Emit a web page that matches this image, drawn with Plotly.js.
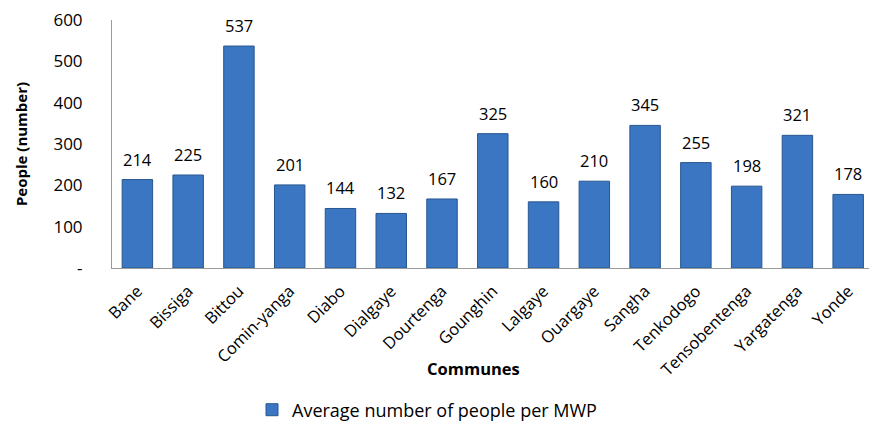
<!DOCTYPE html>
<html>
<head>
<meta charset="utf-8">
<script src="https://cdn.plot.ly/plotly-3.0.1.min.js"></script>
<style>html,body{margin:0;padding:0;background:#fff;}#chart{width:869px;height:424px;}</style>
</head>
<body>
<div id="chart"></div>
<script>
const communes = ["Bane","Bissiga","Bittou","Comin-yanga","Diabo","Dialgaye","Dourtenga","Gounghin","Lalgaye","Ouargaye","Sangha","Tenkodogo","Tensobentenga","Yargatenga","Yonde"];
const avgPeople = [214,225,537,201,144,132,167,325,160,210,345,255,198,321,178];
const seriesName = "Average number of people per MWP";
const yTickVals = [0,100,200,300,400,500,600];
const yTickText = ["-","100","200","300","400","500","600"];

const FONT = "'Open Sans', sans-serif";

const trace = {
  type: "bar",
  x: communes,
  y: avgPeople,
  name: seriesName,
  width: 0.6,
  marker: {color: "#3b76c3", line: {color: "#28568f", width: 1}},
  cliponaxis: false,
  hoverinfo: "x+y"
};

const valueLabels = communes.map((c, i) => ({
  x: c, y: avgPeople[i], xref: "x", yref: "y",
  text: String(avgPeople[i]), showarrow: false,
  xanchor: "center", yanchor: "bottom", yshift: 7,
  font: {family: FONT, size: 16.5, color: "#000"}
}));

const layout = {
  width: 869, height: 424,
  margin: {l: 112, r: 0, t: 20, b: 156},
  paper_bgcolor: "#fff", plot_bgcolor: "#fff",
  font: {family: FONT, color: "#000"},
  showlegend: true,
  legend: {orientation: "h", x: 0.29, xref: "container", xanchor: "left", y: 0.033, yref: "container", yanchor: "middle", font: {family: FONT, size: 18, color: "#000"}},
  xaxis: {
    type: "category",
    range: [-0.5, 14.41],
    tickangle: -45,
    tickfont: {family: FONT, size: 16.5, color: "#000"},
    ticklabelstandoff: 6,
    showline: true, linecolor: "#9a9a9a", linewidth: 1,
    ticks: "", showgrid: false, zeroline: false,
    automargin: false
  },
  yaxis: {
    range: [0, 600],
    tickvals: yTickVals, ticktext: yTickText,
    tickfont: {family: FONT, size: 17, color: "#000"},
    ticklabelstandoff: 25,
    showline: true, linecolor: "#9a9a9a", linewidth: 1,
    ticks: "", showgrid: false, zeroline: false,
    automargin: false,
    title: {text: "<b>People (number)</b>", font: {family: FONT, size: 15, color: "#000"}, standoff: 22}
  },
  annotations: valueLabels.concat([{
    text: "<b>Communes</b>", xref: "paper", yref: "paper", x: 0.477, y: -0.405, xanchor: "center", yanchor: "middle",
    showarrow: false, font: {family: FONT, size: 16.5, color: "#000"}
  }])
};

Plotly.newPlot("chart", [trace], layout, {displayModeBar: false, staticPlot: true});
</script>
</body>
</html>
